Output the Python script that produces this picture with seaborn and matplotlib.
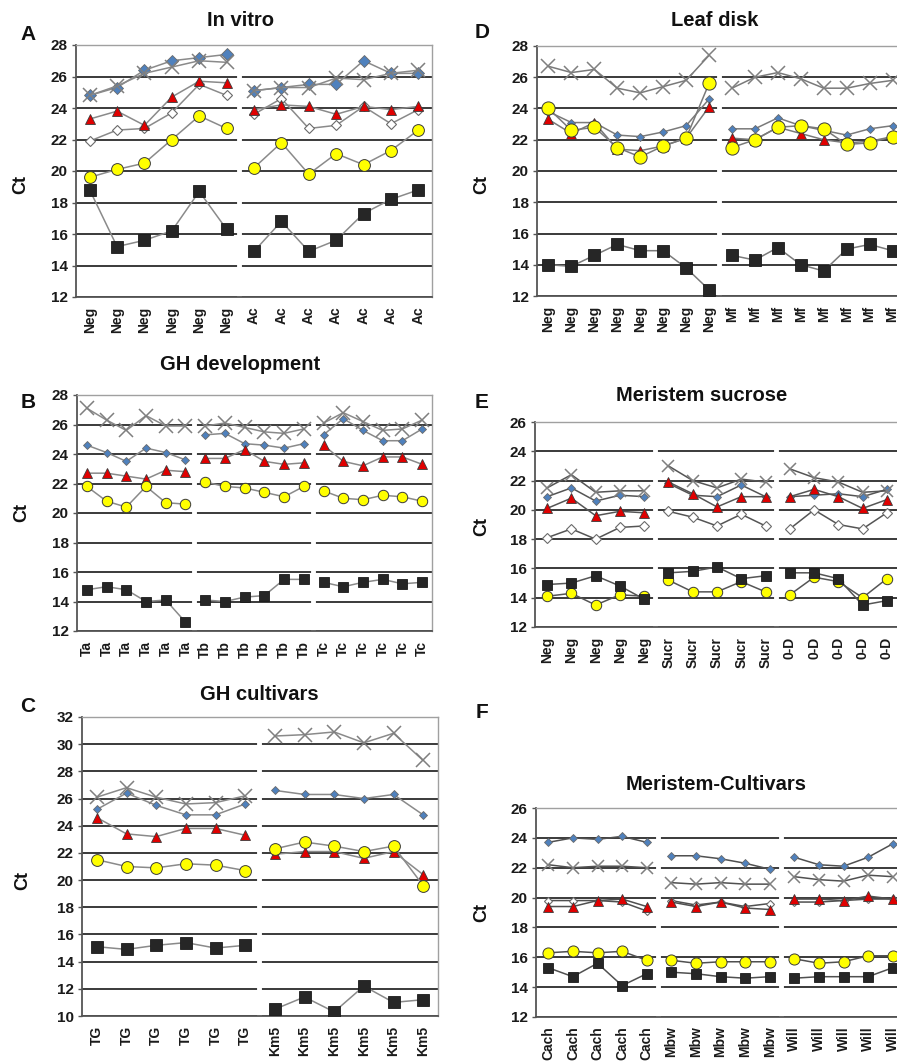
import numpy as np
import pandas as pd
import matplotlib
matplotlib.use("Agg")
import matplotlib.pyplot as plt
import seaborn as sns

# ---------------- data ----------------
A_labels = ["Neg"] * 6 + ["Ac"] * 7
A_cross = [24.8, 25.4, 26.2, 26.6, 27.0, 26.9, 25.1, 25.3, 25.3, 25.9, 25.8, 26.2, 26.4]
A_blue = [24.8, 25.3, 26.4, 27.0, 27.2, 27.4, 25.1, 25.3, 25.5, 25.5, 27.0, 26.2, 26.2]
A_white = [21.9, 22.6, 22.7, 23.7, 25.5, 24.8, 23.6, 24.6, 22.7, 22.9, 24.1, 23.0, 23.9]
A_red = [23.3, 23.8, 22.9, 24.7, 25.7, 25.6, 23.9, 24.2, 24.1, 23.6, 24.1, 23.9, 24.1]
A_yellow = [19.6, 20.1, 20.5, 22.0, 23.5, 22.7, 20.2, 21.8, 19.8, 21.1, 20.4, 21.3, 22.6]
A_black = [18.8, 15.2, 15.6, 16.2, 18.7, 16.3, 14.9, 16.8, 14.9, 15.6, 17.3, 18.2, 18.8]

D_labels = ["Neg"] * 8 + ["Mf"] * 8
D_cross = [26.7, 26.3, 26.5, 25.3, 25.0, 25.4, 25.8, 27.4, 25.3, 26.0, 26.3, 25.9, 25.3, 25.3, 25.6, 25.8]
D_blue = [23.8, 23.1, 23.1, 22.3, 22.2, 22.5, 22.9, 24.6, 22.7, 22.7, 23.4, 22.9, 22.6, 22.3, 22.7, 22.9]
D_red = [23.3, 22.4, 23.1, 21.4, 21.3, 21.6, 22.1, 24.1, 22.1, 22.0, 22.8, 22.4, 22.0, 21.8, 21.9, 22.2]
D_yellow = [24.0, 22.6, 22.8, 21.5, 20.9, 21.6, 22.1, 25.6, 21.5, 22.0, 22.8, 22.9, 22.7, 21.7, 21.8, 22.2]
D_black = [14.0, 13.9, 14.6, 15.3, 14.9, 14.9, 13.8, 12.4, 14.6, 14.3, 15.1, 14.0, 13.6, 15.0, 15.3, 14.9]

B_labels = ["Ta"] * 6 + ["Tb"] * 6 + ["Tc"] * 6
B_cross = [27.1, 26.3, 25.6, 26.6, 25.9, 25.9, 25.9, 26.1, 25.8, 25.5, 25.4, 25.7, 26.1, 26.8, 26.2, 25.6, 25.7, 26.3]
B_blue = [24.6, 24.1, 23.5, 24.4, 24.1, 23.6, 25.3, 25.4, 24.7, 24.6, 24.4, 24.7, 25.3, 26.4, 25.6, 24.9, 24.9, 25.7]
B_red = [22.7, 22.7, 22.5, 22.3, 22.9, 22.8, 23.7, 23.7, 24.3, 23.5, 23.3, 23.4, 24.6, 23.5, 23.2, 23.8, 23.8, 23.3]
B_yellow = [21.8, 20.8, 20.4, 21.8, 20.7, 20.6, 22.1, 21.8, 21.7, 21.4, 21.1, 21.8, 21.5, 21.0, 20.9, 21.2, 21.1, 20.8]
B_black = [14.8, 15.0, 14.8, 14.0, 14.1, 12.6, 14.1, 14.0, 14.3, 14.4, 15.5, 15.5, 15.3, 15.0, 15.3, 15.5, 15.2, 15.3]

E_labels = ["Neg"] * 5 + ["Sucr"] * 5 + ["0-D"] * 5
E_cross = [21.5, 22.4, 21.2, 21.3, 21.3, 23.0, 22.0, 21.5, 22.1, 21.9, 22.8, 22.2, 21.9, 21.2, 21.3]
E_blue = [20.9, 21.5, 20.6, 21.0, 20.9, 21.8, 21.0, 20.9, 21.7, 20.9, 20.9, 21.0, 21.1, 20.9, 21.4]
E_white = [18.1, 18.7, 18.0, 18.8, 18.9, 19.9, 19.5, 18.9, 19.7, 18.9, 18.7, 20.0, 19.0, 18.7, 19.8]
E_red = [20.1, 20.8, 19.6, 19.9, 19.8, 21.9, 21.1, 20.2, 20.9, 20.9, 20.9, 21.4, 20.9, 20.1, 20.7]
E_yellow = [14.1, 14.3, 13.5, 14.2, 14.1, 15.2, 14.4, 14.4, 15.1, 14.4, 14.2, 15.4, 15.1, 14.0, 15.3]
E_black = [14.9, 15.0, 15.5, 14.8, 13.9, 15.7, 15.8, 16.1, 15.3, 15.5, 15.7, 15.7, 15.3, 13.5, 13.8]

C_labels = ["TG"] * 6 + ["Km5"] * 6
C_cross = [26.1, 26.8, 26.1, 25.6, 25.7, 26.2, 30.6, 30.7, 30.9, 30.1, 30.8, 28.8]
C_blue = [25.2, 26.4, 25.5, 24.8, 24.8, 25.6, 26.6, 26.3, 26.3, 26.0, 26.3, 24.8]
C_red = [24.6, 23.4, 23.2, 23.8, 23.8, 23.3, 21.9, 22.1, 22.1, 21.6, 22.1, 20.4]
C_yellow = [21.5, 21.0, 20.9, 21.2, 21.1, 20.7, 22.3, 22.8, 22.5, 22.1, 22.5, 19.6]
C_black = [15.1, 14.9, 15.2, 15.4, 15.0, 15.2, 10.5, 11.4, 10.3, 12.2, 11.0, 11.2]

F_labels = ["Cach"] * 5 + ["Mbw"] * 5 + ["Will"] * 5
F_blue = [23.7, 24.0, 23.9, 24.1, 23.7, 22.8, 22.8, 22.6, 22.3, 21.9, 22.7, 22.2, 22.1, 22.7, 23.6]
F_cross = [22.2, 22.0, 22.1, 22.1, 22.0, 21.0, 20.9, 21.0, 20.9, 20.9, 21.4, 21.2, 21.1, 21.5, 21.4]
F_white = [19.8, 19.8, 19.8, 19.7, 19.1, 19.8, 19.5, 19.7, 19.4, 19.6, 19.7, 19.7, 19.8, 19.9, 19.9]
F_red = [19.4, 19.4, 19.8, 19.9, 19.4, 19.7, 19.4, 19.7, 19.3, 19.2, 19.9, 19.9, 19.8, 20.1, 19.9]
F_yellow = [16.3, 16.4, 16.3, 16.4, 15.8, 15.8, 15.6, 15.7, 15.7, 15.7, 15.9, 15.6, 15.7, 16.1, 16.1]
F_black = [15.3, 14.7, 15.6, 14.1, 14.9, 15.0, 14.9, 14.7, 14.6, 14.7, 14.6, 14.7, 14.7, 14.7, 15.3]

# ---------------- style ----------------
sns.set_style("white")
plt.rcParams["font.family"] = ["Liberation Sans", "DejaVu Sans"]
plt.rcParams["font.weight"] = "bold"

W, H = 897, 1061
fig = plt.figure(figsize=(W / 100, H / 100), dpi=100)


def rect(l, r, t, b):
    return [l / W, 1 - b / H, (r - l) / W, (b - t) / H]


MARK = {
    "blue": dict(marker="D", markerfacecolor="#4f81bd", markeredgecolor="#6a6a6a", markeredgewidth=0.6),
    "cross": dict(marker="x", markerfacecolor="none", markeredgecolor="#7f7f7f", markeredgewidth=1.1),
    "white": dict(marker="D", markerfacecolor="white", markeredgecolor="#6a6a6a", markeredgewidth=0.8),
    "red": dict(marker="^", markerfacecolor="#e00000", markeredgecolor="#3a3a3a", markeredgewidth=0.6),
    "yellow": dict(marker="o", markerfacecolor="#ffff00", markeredgecolor="#3a3a3a", markeredgewidth=0.7),
    "black": dict(marker="s", markerfacecolor="#262626", markeredgecolor="#1a1a1a", markeredgewidth=0.6),
}
ORDER = ["blue", "cross", "white", "red", "yellow", "black"]


def panel(box, labels, series, ylim, sizes, linecolor):
    ax = fig.add_axes(box)
    n = len(labels)
    pos = np.arange(n)
    grp = np.cumsum([0] + [int(labels[i] != labels[i - 1]) for i in range(1, n)])
    for z, key in enumerate(ORDER):
        vals = series.get(key)
        if vals is None:
            continue
        df = pd.DataFrame({"pos": pos, "ct": vals, "grp": grp})
        sns.lineplot(data=df, x="pos", y="ct", units="grp", estimator=None,
                     ax=ax, legend=False, color=linecolor, lw=1.1,
                     markersize=sizes[key], zorder=3 + z, **MARK[key])
    ax.set_xlabel("")
    ax.set_ylabel("")
    ax.set_xlim(-0.5, n - 0.5)
    ax.set_ylim(*ylim)
    ax.set_yticks(np.arange(ylim[0], ylim[1] + 0.1, 2))
    ax.set_yticklabels([f"{v:d}" for v in range(ylim[0], ylim[1] + 1, 2)],
                       fontsize=11, fontweight="bold", color="#1a1a1a")
    ax.set_xticks(pos)
    ax.set_xticklabels(labels, rotation=90, fontsize=10, fontweight="bold", color="#1a1a1a")
    ax.set_xticks(np.arange(-0.5, n, 1.0), minor=True)
    ax.tick_params(axis="x", which="major", length=0, pad=7)
    ax.tick_params(axis="x", which="minor", length=4, width=1.0, color="#555555", direction="out")
    ax.tick_params(axis="y", which="major", length=3, width=1.0, color="#555555", direction="out", pad=3, left=True)
    ax.yaxis.grid(True, color="#3a3a3a", lw=1.4)
    ax.xaxis.grid(False)
    ax.set_axisbelow(True)
    for b in range(1, n):
        if labels[b] != labels[b - 1]:
            ax.axvline(b - 0.55, ymin=0.004, ymax=0.996, color="white", lw=3.5, zorder=1)
    for s in ["left", "bottom"]:
        ax.spines[s].set_color("#555555")
        ax.spines[s].set_linewidth(1.3)
    for s in ["top", "right"]:
        ax.spines[s].set_color("#a0a0a0")
        ax.spines[s].set_linewidth(1.0)
    return ax


def ftext(x, y, s, size, **kw):
    fig.text(x / W, 1 - y / H, s, ha="center", va="center", fontsize=size,
             fontweight="bold", color="#111111", **kw)


# Panel A
panel(rect(76, 432, 45, 297), A_labels,
      dict(cross=A_cross, blue=A_blue, white=A_white, red=A_red, yellow=A_yellow, black=A_black),
      (12, 28), dict(blue=6.5, cross=10, white=5, red=7.5, yellow=8.5, black=8), "#8a8a8a")
# Panel D
panel(rect(537, 904, 46, 296), D_labels,
      dict(cross=D_cross, blue=D_blue, red=D_red, yellow=D_yellow, black=D_black),
      (12, 28), dict(blue=4.5, cross=10, white=5, red=7, yellow=9.5, black=8), "#7a7a7a")
# Panel B
panel(rect(77, 432, 395, 631), B_labels,
      dict(cross=B_cross, blue=B_blue, red=B_red, yellow=B_yellow, black=B_black),
      (12, 28), dict(blue=4.5, cross=10, white=5, red=7, yellow=7.5, black=7), "#8a8a8a")
# Panel E
panel(rect(535, 899, 422, 627), E_labels,
      dict(cross=E_cross, blue=E_blue, white=E_white, red=E_red, yellow=E_yellow, black=E_black),
      (12, 26), dict(blue=4.5, cross=8, white=5, red=7, yellow=7.5, black=7.5), "#555555")
# Panel C
panel(rect(82, 438, 717, 1016), C_labels,
      dict(cross=C_cross, blue=C_blue, red=C_red, yellow=C_yellow, black=C_black),
      (10, 32), dict(blue=4.5, cross=10, white=5, red=7, yellow=8.5, black=8), "#8a8a8a")
# Panel F
panel(rect(536, 905, 808, 1017), F_labels,
      dict(blue=F_blue, cross=F_cross, white=F_white, red=F_red, yellow=F_yellow, black=F_black),
      (12, 26), dict(blue=4.5, cross=8, white=4.5, red=7, yellow=8, black=7.5), "#505050")

# titles
ftext(240, 21, "In vitro", 14.5)
ftext(715, 21, "Leaf disk", 14.5)
ftext(240, 365, "GH development", 14.5)
ftext(702, 396, "Meristem sucrose", 14.5)
ftext(259, 694, "GH cultivars", 14.5)
ftext(716, 784, "Meristem-Cultivars", 14.5)

# panel letters
ftext(28, 35, "A", 15)
ftext(482, 33, "D", 15)
ftext(28, 402, "B", 15)
ftext(482, 402, "E", 15)
ftext(28, 706, "C", 15)
ftext(482, 713, "F", 15)

# y labels
for (x, y) in [(21, 185), (482, 185), (22, 512), (482, 527), (23, 880), (482, 913)]:
    ftext(x, y, "Ct", 13, rotation=90)

fig.savefig("out.png", dpi=100)
